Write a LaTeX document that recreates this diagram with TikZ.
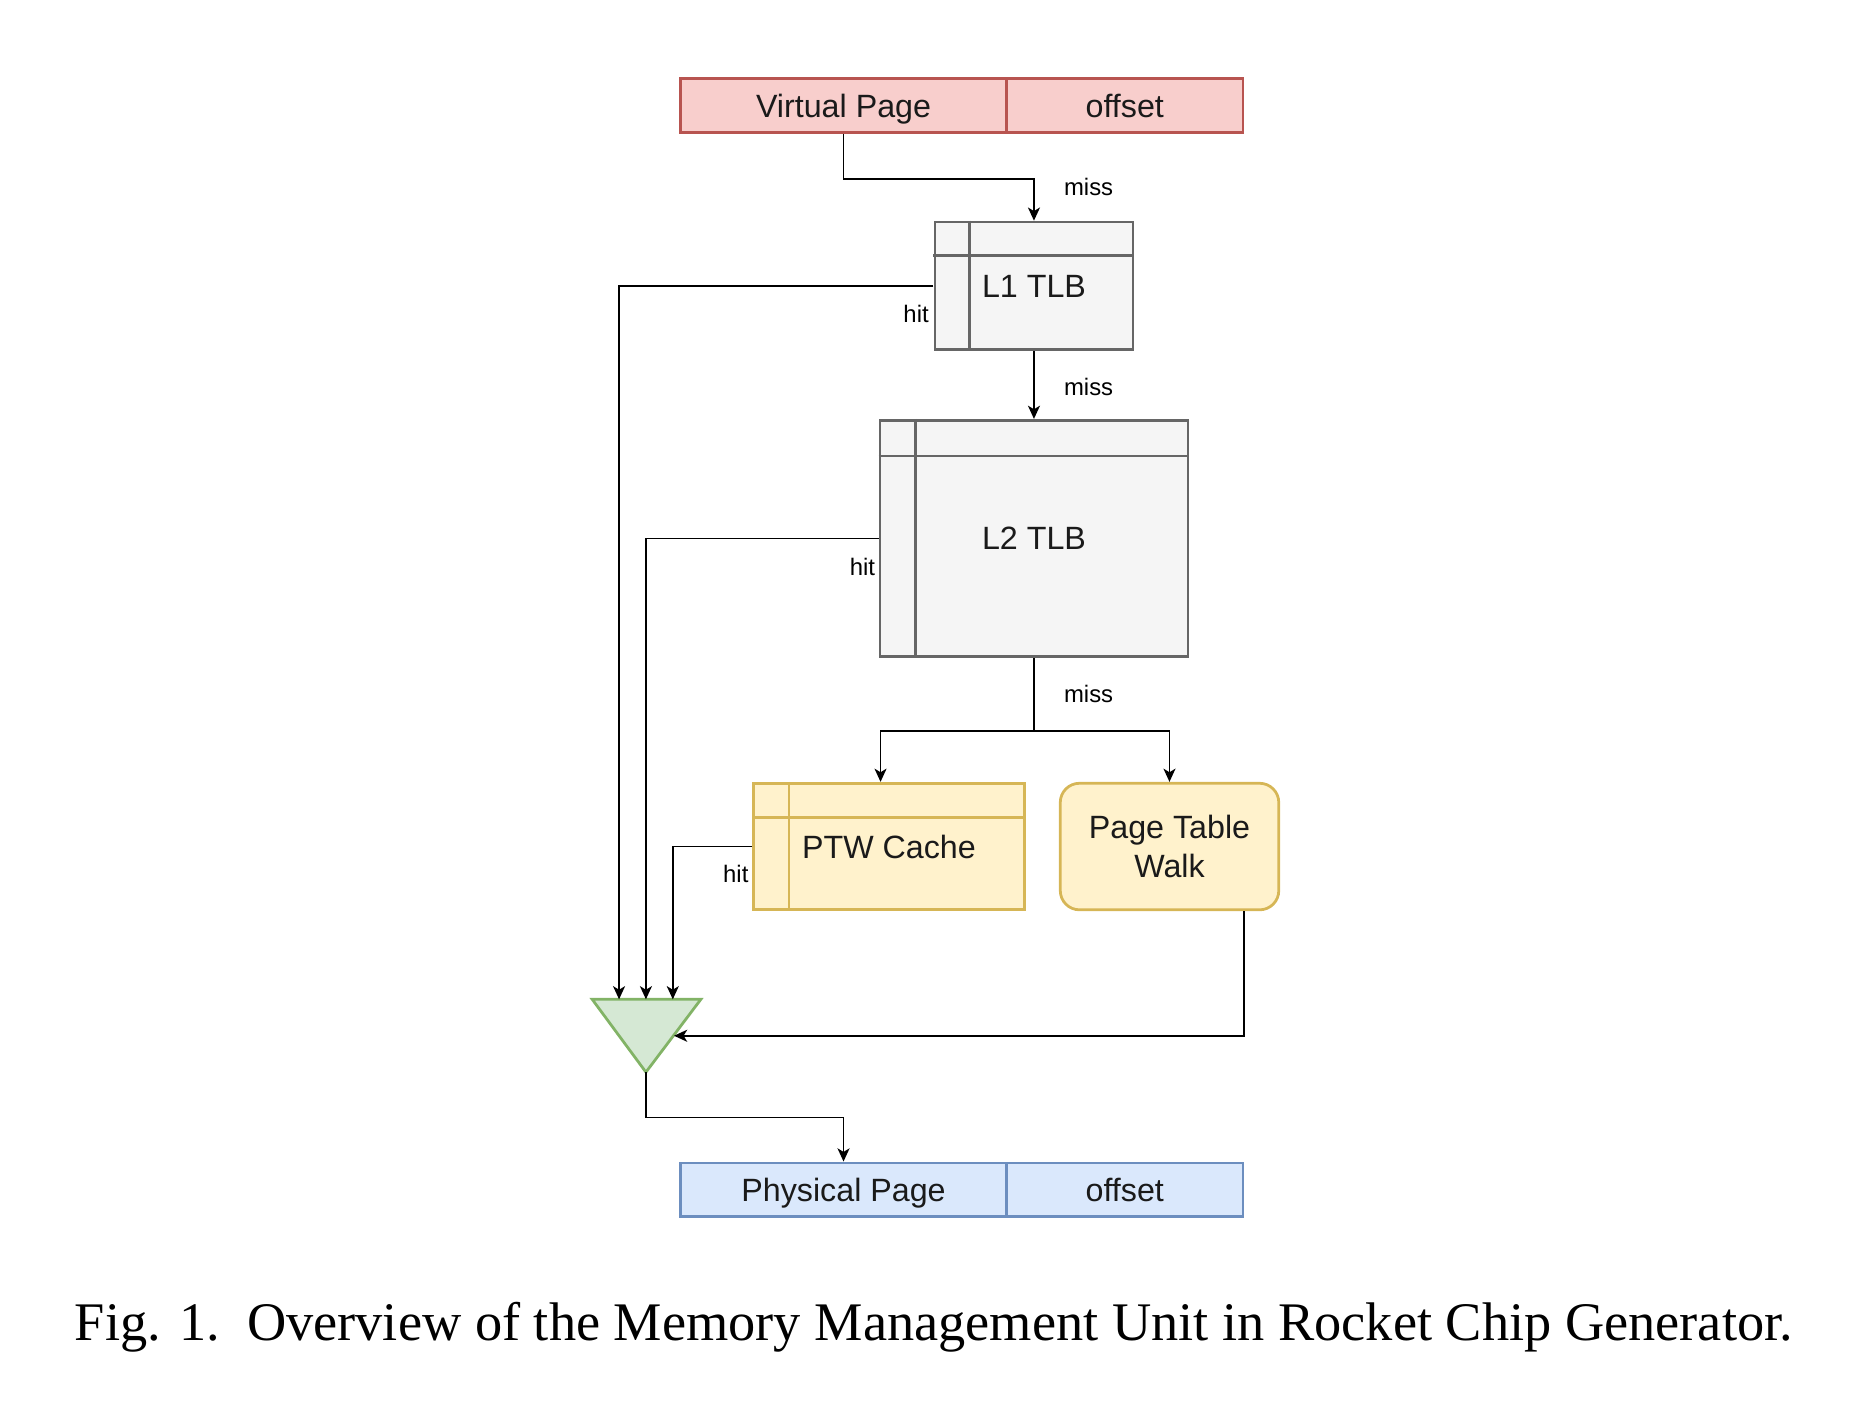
\documentclass[tikz,border=0pt]{standalone}
\usepackage{fontspec}
\setmainfont{Liberation Sans}
\newfontfamily\capfont{Liberation Serif}
\usetikzlibrary{arrows.meta}
\definecolor{redF}{HTML}{F8CECC}\definecolor{redD}{HTML}{B85450}
\definecolor{greyF}{HTML}{F5F5F5}\definecolor{greyD}{HTML}{666666}
\definecolor{yelF}{HTML}{FFF2CC}\definecolor{yelD}{HTML}{D6B656}
\definecolor{grnF}{HTML}{D5E8D4}\definecolor{grnD}{HTML}{82B366}
\definecolor{bluF}{HTML}{DAE8FC}\definecolor{bluD}{HTML}{6C8EBF}
\definecolor{txt}{HTML}{1A1A1A}
\tikzset{
  box/.style={rectangle, inner sep=0pt, line width=2.3pt, text=txt,
    font=\fontsize{27}{32}\selectfont, align=center},
  fixht/.style={text height=22pt, text depth=3pt},
  redbox/.style={box, fixht, fill=redF, draw=redD},
  greybox/.style={box, fill=greyF, draw=greyD},
  yelbox/.style={box, fill=yelF, draw=yelD},
  blubox/.style={box, fixht, fill=bluF, draw=bluD},
  sepline/.style={line width=2.3pt},
  conn/.style={line width=1.5pt, draw=black, -{Stealth[length=11pt,width=10pt,inset=3pt]}},
  plain/.style={line width=1.5pt, draw=black},
  lbl/.style={font=\fontsize{20}{24}\selectfont, inner sep=0pt}
}
\begin{document}
\begin{tikzpicture}[x=1pt,y=1pt]
\useasboundingbox (0,0) rectangle (1560,-1166.67);
\begin{scope}[scale=0.995, transform shape]
% top address
\node[redbox, minimum width=273, minimum height=45] (vp) at (706.5,-88.5) {Virtual Page};
\node[redbox, minimum width=198, minimum height=45] (vo) at (942,-88.5) {offset};
% L1 TLB
\node[greybox, minimum width=166, minimum height=107] (l1) at (866,-239.5) {L1 TLB};
\draw[greyD, sepline] ([xshift=30]l1.north west) -- ([xshift=30]l1.south west);
\draw[greyD, sepline] ([yshift=-29]l1.north west) -- ([yshift=-29]l1.north east);
% L2 TLB
\node[greybox, minimum width=258, minimum height=198] (l2) at (866,-451) {L2 TLB};
\draw[greyD, sepline] ([xshift=31]l2.north west) -- ([xshift=31]l2.south west);
\draw[greyD, sepline] ([yshift=-31]l2.north west) -- ([yshift=-31]l2.north east);
% PTW cache
\node[yelbox, minimum width=227, minimum height=106] (pc) at (744.5,-709) {PTW Cache};
\draw[yelD, sepline] ([xshift=31]pc.north west) -- ([xshift=31]pc.south west);
\draw[yelD, sepline] ([yshift=-30]pc.north west) -- ([yshift=-30]pc.north east);
% Page table walk
\node[yelbox, rounded corners=16pt, minimum width=183, minimum height=106] (pw) at (979.5,-709) {Page Table\\Walk};
% mux triangle
\coordinate (tl) at (496,-837);
\coordinate (tr) at (587,-837);
\coordinate (ap) at (541,-898);
\draw[fill=grnF, draw=grnD, line width=2.3pt, line join=miter] (tl) -- (tr) -- (ap) -- cycle;
\coordinate (in1) at (518.5,-837);
\coordinate (in2) at (541,-837);
\coordinate (in3) at (563.5,-837);
\coordinate (inr) at (564.5,-867.5);
% physical address
\node[blubox, minimum width=273, minimum height=45] (pp) at (706.5,-996.5) {Physical Page};
\node[blubox, minimum width=198, minimum height=45] (po) at (942,-996.5) {offset};
% connectors
\draw[conn] (vp.south) -- ++(0,-38) -| (l1.north);
\node[lbl, anchor=west] (m1) at (891,-157) {miss};
\draw[conn] (l1.south) -- (l2.north);
\node[lbl, anchor=west] (m2) at (891,-324) {miss};
\draw[plain] (l2.south) -- ++(0,-61) coordinate (split);
\draw[conn] (split) -| ([xshift=-7]pc.north);
\draw[conn] (split) -| (pw.north);
\node[lbl, anchor=west] (m3) at (891,-581) {miss};
\draw[conn] (l1.west) -| (in1);
\node[lbl, anchor=east] (h1) at (778,-263) {hit};
\draw[conn] (l2.west) -| (in2);
\node[lbl, anchor=east] (h2) at (733,-475) {hit};
\draw[conn] (pc.west) -| (in3);
\node[lbl, anchor=east] (h3) at (627,-732) {hit};
\draw[conn] ([xshift=-30]pw.south east) |- (inr);
\draw[conn] (ap) -- ++(0,-38) -| (pp.north);
% caption
\node[anchor=base, inner sep=0pt] (cap) at (782.2,-1122.6) {\resizebox{1438.7pt}{!}{\capfont Fig. 1.\ \ Overview of the Memory Management Unit in Rocket Chip Generator.}};
\end{scope}
\end{tikzpicture}
\end{document}
